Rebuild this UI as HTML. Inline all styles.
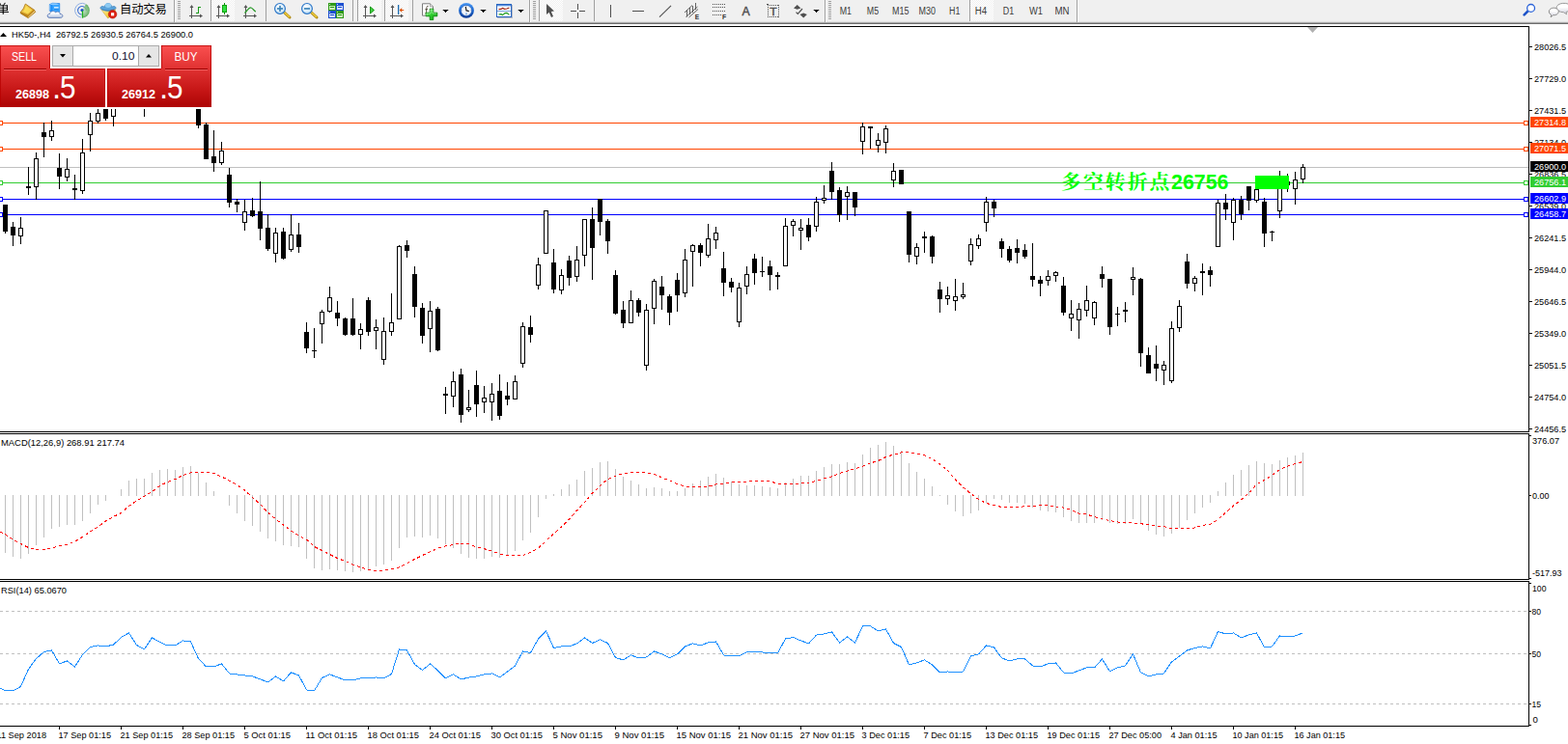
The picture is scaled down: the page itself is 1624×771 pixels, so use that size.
<!DOCTYPE html>
<html><head><meta charset="utf-8"><title>HK50 H4</title><style>html,body{margin:0;padding:0;background:#fff;overflow:hidden}svg text{white-space:pre;font-family:"Liberation Sans",sans-serif}</style></head><body>
<svg width="1624" height="771" viewBox="0 0 1624 771" font-family="Liberation Sans, sans-serif" style="display:block">
<defs>
<pattern id="dith" width="2" height="2" patternUnits="userSpaceOnUse"><rect width="2" height="2" fill="#f0f0f0"/><rect width="1" height="1" fill="#fff"/><rect x="1" y="1" width="1" height="1" fill="#fff"/></pattern>
<linearGradient id="redg" x1="0" y1="0" x2="0" y2="1"><stop offset="0" stop-color="#f84c4c"/><stop offset="0.38" stop-color="#e03030"/><stop offset="1" stop-color="#b00606"/></linearGradient>
<linearGradient id="gold" x1="0" y1="0" x2="1" y2="1"><stop offset="0" stop-color="#ffe46a"/><stop offset="1" stop-color="#c8860a"/></linearGradient>
<linearGradient id="blueg" x1="0" y1="0" x2="0" y2="1"><stop offset="0" stop-color="#2a5fd8"/><stop offset="1" stop-color="#1038b0"/></linearGradient>
<linearGradient id="greeng" x1="0" y1="0" x2="0" y2="1"><stop offset="0" stop-color="#3aa020"/><stop offset="1" stop-color="#2a8a10"/></linearGradient>
<radialGradient id="lens" cx="0.4" cy="0.35" r="0.7"><stop offset="0" stop-color="#ffffff"/><stop offset="1" stop-color="#bfe0f8"/></radialGradient>
</defs>
<rect x="0" y="0" width="1624" height="771" fill="#fff" />
<g shape-rendering="crispEdges">
<rect x="0" y="27" width="1584" height="1" fill="#000" />
<rect x="0" y="447" width="1584" height="1" fill="#000" />
<rect x="0" y="449" width="1584" height="1" fill="#000" />
<rect x="0" y="600" width="1584" height="1" fill="#000" />
<rect x="0" y="602" width="1584" height="1" fill="#000" />
<rect x="0" y="752" width="1584" height="1" fill="#000" />
<rect x="1583" y="27" width="1" height="421" fill="#000" />
<rect x="1583" y="449" width="1" height="152" fill="#000" />
<rect x="1583" y="602" width="1" height="151" fill="#000" />
<rect x="0" y="173" width="1583" height="1" fill="#c0c0c0" />
<rect x="0" y="127" width="1579" height="1" fill="#ff4500" />
<rect x="-2" y="125" width="5" height="5" fill="#ff4500" />
<rect x="-1" y="126" width="3" height="3" fill="#fff" />
<rect x="1578" y="125" width="5" height="5" fill="#ff4500" />
<rect x="1579" y="126" width="3" height="3" fill="#fff" />
<rect x="0" y="154" width="1579" height="1" fill="#ff4500" />
<rect x="-2" y="152" width="5" height="5" fill="#ff4500" />
<rect x="-1" y="153" width="3" height="3" fill="#fff" />
<rect x="1578" y="152" width="5" height="5" fill="#ff4500" />
<rect x="1579" y="153" width="3" height="3" fill="#fff" />
<rect x="0" y="189" width="1579" height="1" fill="#32cd32" />
<rect x="-2" y="187" width="5" height="5" fill="#32cd32" />
<rect x="-1" y="188" width="3" height="3" fill="#fff" />
<rect x="1578" y="187" width="5" height="5" fill="#32cd32" />
<rect x="1579" y="188" width="3" height="3" fill="#fff" />
<rect x="0" y="206" width="1579" height="1" fill="#0000ff" />
<rect x="-2" y="204" width="5" height="5" fill="#0000ff" />
<rect x="-1" y="205" width="3" height="3" fill="#fff" />
<rect x="1578" y="204" width="5" height="5" fill="#0000ff" />
<rect x="1579" y="205" width="3" height="3" fill="#fff" />
<rect x="0" y="222" width="1579" height="1" fill="#0000ff" />
<rect x="-2" y="220" width="5" height="5" fill="#0000ff" />
<rect x="-1" y="221" width="3" height="3" fill="#fff" />
<rect x="1578" y="220" width="5" height="5" fill="#0000ff" />
<rect x="1579" y="221" width="3" height="3" fill="#fff" />
<rect x="5" y="212" width="1" height="30" fill="#000" />
<rect x="3" y="212" width="5" height="28" fill="#000" />
<rect x="13" y="230" width="1" height="25" fill="#000" />
<rect x="11" y="235" width="5" height="9" fill="#000" />
<rect x="21" y="225" width="1" height="28" fill="#000" />
<rect x="19" y="236" width="5" height="9" fill="#000" />
<rect x="20" y="237" width="3" height="7" fill="#fff" />
<rect x="29" y="173" width="1" height="29" fill="#000" />
<rect x="27" y="193" width="5" height="2" fill="#000" />
<rect x="37" y="158" width="1" height="49" fill="#000" />
<rect x="35" y="164" width="5" height="30" fill="#000" />
<rect x="36" y="165" width="3" height="28" fill="#fff" />
<rect x="45" y="127" width="1" height="36" fill="#000" />
<rect x="43" y="137" width="5" height="5" fill="#000" />
<rect x="53" y="125" width="1" height="21" fill="#000" />
<rect x="51" y="135" width="5" height="7" fill="#000" />
<rect x="52" y="136" width="3" height="5" fill="#fff" />
<rect x="61" y="159" width="1" height="37" fill="#000" />
<rect x="59" y="174" width="5" height="9" fill="#000" />
<rect x="69" y="164" width="1" height="24" fill="#000" />
<rect x="67" y="175" width="5" height="9" fill="#000" />
<rect x="68" y="176" width="3" height="7" fill="#fff" />
<rect x="77" y="181" width="1" height="26" fill="#000" />
<rect x="75" y="195" width="5" height="2" fill="#000" />
<rect x="85" y="144" width="1" height="57" fill="#000" />
<rect x="83" y="158" width="5" height="40" fill="#000" />
<rect x="84" y="159" width="3" height="38" fill="#fff" />
<rect x="93" y="117" width="1" height="40" fill="#000" />
<rect x="91" y="125" width="5" height="15" fill="#000" />
<rect x="92" y="126" width="3" height="13" fill="#fff" />
<rect x="101" y="108" width="1" height="20" fill="#000" />
<rect x="99" y="117" width="5" height="9" fill="#000" />
<rect x="100" y="118" width="3" height="7" fill="#fff" />
<rect x="109" y="100" width="1" height="25" fill="#000" />
<rect x="107" y="104" width="5" height="19" fill="#000" />
<rect x="117" y="100" width="1" height="31" fill="#000" />
<rect x="115" y="104" width="5" height="17" fill="#000" />
<rect x="116" y="105" width="3" height="15" fill="#fff" />
<rect x="149" y="100" width="1" height="21" fill="#000" />
<rect x="147" y="104" width="5" height="5" fill="#000" />
<rect x="205" y="100" width="1" height="33" fill="#000" />
<rect x="203" y="104" width="5" height="26" fill="#000" />
<rect x="213" y="127" width="1" height="38" fill="#000" />
<rect x="211" y="129" width="5" height="36" fill="#000" />
<rect x="221" y="135" width="1" height="43" fill="#000" />
<rect x="219" y="162" width="5" height="7" fill="#000" />
<rect x="229" y="147" width="1" height="24" fill="#000" />
<rect x="227" y="156" width="5" height="13" fill="#000" />
<rect x="228" y="157" width="3" height="11" fill="#fff" />
<rect x="237" y="174" width="1" height="41" fill="#000" />
<rect x="235" y="181" width="5" height="29" fill="#000" />
<rect x="245" y="206" width="1" height="14" fill="#000" />
<rect x="243" y="209" width="5" height="3" fill="#000" />
<rect x="253" y="207" width="1" height="32" fill="#000" />
<rect x="251" y="219" width="5" height="12" fill="#000" />
<rect x="252" y="220" width="3" height="10" fill="#fff" />
<rect x="261" y="205" width="1" height="20" fill="#000" />
<rect x="259" y="218" width="5" height="6" fill="#000" />
<rect x="269" y="188" width="1" height="61" fill="#000" />
<rect x="267" y="219" width="5" height="18" fill="#000" />
<rect x="277" y="222" width="1" height="38" fill="#000" />
<rect x="275" y="236" width="5" height="22" fill="#000" />
<rect x="285" y="236" width="1" height="36" fill="#000" />
<rect x="283" y="241" width="5" height="22" fill="#000" />
<rect x="284" y="242" width="3" height="20" fill="#fff" />
<rect x="293" y="236" width="1" height="33" fill="#000" />
<rect x="291" y="240" width="5" height="28" fill="#000" />
<rect x="301" y="222" width="1" height="39" fill="#000" />
<rect x="299" y="243" width="5" height="16" fill="#000" />
<rect x="300" y="244" width="3" height="14" fill="#fff" />
<rect x="309" y="231" width="1" height="31" fill="#000" />
<rect x="307" y="243" width="5" height="13" fill="#000" />
<rect x="317" y="334" width="1" height="32" fill="#000" />
<rect x="315" y="344" width="5" height="17" fill="#000" />
<rect x="325" y="340" width="1" height="31" fill="#000" />
<rect x="323" y="363" width="5" height="1" fill="#000" />
<rect x="333" y="321" width="1" height="35" fill="#000" />
<rect x="331" y="323" width="5" height="13" fill="#000" />
<rect x="332" y="324" width="3" height="11" fill="#fff" />
<rect x="341" y="297" width="1" height="27" fill="#000" />
<rect x="339" y="308" width="5" height="15" fill="#000" />
<rect x="340" y="309" width="3" height="13" fill="#fff" />
<rect x="349" y="312" width="1" height="26" fill="#000" />
<rect x="347" y="324" width="5" height="6" fill="#000" />
<rect x="357" y="329" width="1" height="19" fill="#000" />
<rect x="355" y="330" width="5" height="17" fill="#000" />
<rect x="365" y="309" width="1" height="39" fill="#000" />
<rect x="363" y="330" width="5" height="17" fill="#000" />
<rect x="373" y="335" width="1" height="27" fill="#000" />
<rect x="371" y="341" width="5" height="6" fill="#000" />
<rect x="372" y="342" width="3" height="4" fill="#fff" />
<rect x="381" y="308" width="1" height="40" fill="#000" />
<rect x="379" y="311" width="5" height="33" fill="#000" />
<rect x="389" y="331" width="1" height="31" fill="#000" />
<rect x="387" y="339" width="5" height="4" fill="#000" />
<rect x="388" y="340" width="3" height="2" fill="#fff" />
<rect x="397" y="329" width="1" height="49" fill="#000" />
<rect x="395" y="343" width="5" height="30" fill="#000" />
<rect x="396" y="344" width="3" height="28" fill="#fff" />
<rect x="405" y="304" width="1" height="44" fill="#000" />
<rect x="403" y="334" width="5" height="10" fill="#000" />
<rect x="404" y="335" width="3" height="8" fill="#fff" />
<rect x="413" y="254" width="1" height="77" fill="#000" />
<rect x="411" y="255" width="5" height="76" fill="#000" />
<rect x="412" y="256" width="3" height="74" fill="#fff" />
<rect x="421" y="249" width="1" height="18" fill="#000" />
<rect x="419" y="254" width="5" height="6" fill="#000" />
<rect x="429" y="276" width="1" height="53" fill="#000" />
<rect x="427" y="284" width="5" height="34" fill="#000" />
<rect x="437" y="314" width="1" height="42" fill="#000" />
<rect x="435" y="319" width="5" height="29" fill="#000" />
<rect x="445" y="312" width="1" height="53" fill="#000" />
<rect x="443" y="322" width="5" height="19" fill="#000" />
<rect x="444" y="323" width="3" height="17" fill="#fff" />
<rect x="453" y="318" width="1" height="46" fill="#000" />
<rect x="451" y="320" width="5" height="43" fill="#000" />
<rect x="461" y="401" width="1" height="28" fill="#000" />
<rect x="459" y="408" width="5" height="2" fill="#000" />
<rect x="469" y="385" width="1" height="37" fill="#000" />
<rect x="467" y="395" width="5" height="16" fill="#000" />
<rect x="468" y="396" width="3" height="14" fill="#fff" />
<rect x="477" y="382" width="1" height="56" fill="#000" />
<rect x="475" y="388" width="5" height="42" fill="#000" />
<rect x="485" y="404" width="1" height="23" fill="#000" />
<rect x="483" y="422" width="5" height="3" fill="#000" />
<rect x="484" y="423" width="3" height="1" fill="#fff" />
<rect x="493" y="384" width="1" height="48" fill="#000" />
<rect x="491" y="399" width="5" height="20" fill="#000" />
<rect x="501" y="400" width="1" height="28" fill="#000" />
<rect x="499" y="412" width="5" height="5" fill="#000" />
<rect x="500" y="413" width="3" height="3" fill="#fff" />
<rect x="509" y="397" width="1" height="39" fill="#000" />
<rect x="507" y="408" width="5" height="9" fill="#000" />
<rect x="508" y="409" width="3" height="7" fill="#fff" />
<rect x="517" y="388" width="1" height="47" fill="#000" />
<rect x="515" y="405" width="5" height="26" fill="#000" />
<rect x="525" y="396" width="1" height="24" fill="#000" />
<rect x="523" y="410" width="5" height="4" fill="#000" />
<rect x="533" y="389" width="1" height="25" fill="#000" />
<rect x="531" y="395" width="5" height="19" fill="#000" />
<rect x="532" y="396" width="3" height="17" fill="#fff" />
<rect x="541" y="334" width="1" height="47" fill="#000" />
<rect x="539" y="338" width="5" height="39" fill="#000" />
<rect x="540" y="339" width="3" height="37" fill="#fff" />
<rect x="549" y="327" width="1" height="28" fill="#000" />
<rect x="547" y="339" width="5" height="8" fill="#000" />
<rect x="557" y="267" width="1" height="33" fill="#000" />
<rect x="555" y="274" width="5" height="22" fill="#000" />
<rect x="556" y="275" width="3" height="20" fill="#fff" />
<rect x="565" y="218" width="1" height="45" fill="#000" />
<rect x="563" y="218" width="5" height="45" fill="#000" />
<rect x="564" y="219" width="3" height="43" fill="#fff" />
<rect x="573" y="258" width="1" height="46" fill="#000" />
<rect x="571" y="272" width="5" height="28" fill="#000" />
<rect x="581" y="279" width="1" height="26" fill="#000" />
<rect x="579" y="285" width="5" height="16" fill="#000" />
<rect x="580" y="286" width="3" height="14" fill="#fff" />
<rect x="589" y="265" width="1" height="31" fill="#000" />
<rect x="587" y="270" width="5" height="18" fill="#000" />
<rect x="597" y="255" width="1" height="37" fill="#000" />
<rect x="595" y="269" width="5" height="18" fill="#000" />
<rect x="596" y="270" width="3" height="16" fill="#fff" />
<rect x="605" y="227" width="1" height="49" fill="#000" />
<rect x="603" y="227" width="5" height="38" fill="#000" />
<rect x="604" y="228" width="3" height="36" fill="#fff" />
<rect x="613" y="215" width="1" height="75" fill="#000" />
<rect x="611" y="227" width="5" height="30" fill="#000" />
<rect x="621" y="206" width="1" height="38" fill="#000" />
<rect x="619" y="206" width="5" height="24" fill="#000" />
<rect x="629" y="227" width="1" height="36" fill="#000" />
<rect x="627" y="229" width="5" height="21" fill="#000" />
<rect x="637" y="280" width="1" height="46" fill="#000" />
<rect x="635" y="285" width="5" height="40" fill="#000" />
<rect x="645" y="312" width="1" height="28" fill="#000" />
<rect x="643" y="321" width="5" height="14" fill="#000" />
<rect x="653" y="301" width="1" height="34" fill="#000" />
<rect x="651" y="311" width="5" height="24" fill="#000" />
<rect x="652" y="312" width="3" height="22" fill="#fff" />
<rect x="661" y="309" width="1" height="19" fill="#000" />
<rect x="659" y="311" width="5" height="13" fill="#000" />
<rect x="669" y="315" width="1" height="69" fill="#000" />
<rect x="667" y="321" width="5" height="58" fill="#000" />
<rect x="668" y="322" width="3" height="56" fill="#fff" />
<rect x="677" y="289" width="1" height="47" fill="#000" />
<rect x="675" y="291" width="5" height="29" fill="#000" />
<rect x="676" y="292" width="3" height="27" fill="#fff" />
<rect x="685" y="286" width="1" height="35" fill="#000" />
<rect x="683" y="297" width="5" height="9" fill="#000" />
<rect x="693" y="305" width="1" height="32" fill="#000" />
<rect x="691" y="307" width="5" height="17" fill="#000" />
<rect x="701" y="283" width="1" height="40" fill="#000" />
<rect x="699" y="290" width="5" height="16" fill="#000" />
<rect x="709" y="258" width="1" height="50" fill="#000" />
<rect x="707" y="269" width="5" height="35" fill="#000" />
<rect x="708" y="270" width="3" height="33" fill="#fff" />
<rect x="717" y="253" width="1" height="44" fill="#000" />
<rect x="715" y="254" width="5" height="7" fill="#000" />
<rect x="716" y="255" width="3" height="5" fill="#fff" />
<rect x="725" y="252" width="1" height="24" fill="#000" />
<rect x="723" y="254" width="5" height="8" fill="#000" />
<rect x="733" y="232" width="1" height="35" fill="#000" />
<rect x="731" y="247" width="5" height="18" fill="#000" />
<rect x="732" y="248" width="3" height="16" fill="#fff" />
<rect x="741" y="235" width="1" height="23" fill="#000" />
<rect x="739" y="241" width="5" height="8" fill="#000" />
<rect x="740" y="242" width="3" height="6" fill="#fff" />
<rect x="749" y="261" width="1" height="46" fill="#000" />
<rect x="747" y="278" width="5" height="15" fill="#000" />
<rect x="757" y="288" width="1" height="15" fill="#000" />
<rect x="755" y="292" width="5" height="6" fill="#000" />
<rect x="765" y="293" width="1" height="46" fill="#000" />
<rect x="763" y="298" width="5" height="36" fill="#000" />
<rect x="764" y="299" width="3" height="34" fill="#fff" />
<rect x="773" y="276" width="1" height="29" fill="#000" />
<rect x="771" y="284" width="5" height="13" fill="#000" />
<rect x="772" y="285" width="3" height="11" fill="#fff" />
<rect x="781" y="263" width="1" height="32" fill="#000" />
<rect x="779" y="268" width="5" height="15" fill="#000" />
<rect x="789" y="266" width="1" height="21" fill="#000" />
<rect x="787" y="281" width="5" height="1" fill="#000" />
<rect x="797" y="270" width="1" height="31" fill="#000" />
<rect x="795" y="276" width="5" height="9" fill="#000" />
<rect x="805" y="282" width="1" height="18" fill="#000" />
<rect x="803" y="285" width="5" height="2" fill="#000" />
<rect x="813" y="226" width="1" height="50" fill="#000" />
<rect x="811" y="234" width="5" height="42" fill="#000" />
<rect x="812" y="235" width="3" height="40" fill="#fff" />
<rect x="821" y="227" width="1" height="18" fill="#000" />
<rect x="819" y="229" width="5" height="5" fill="#000" />
<rect x="820" y="230" width="3" height="3" fill="#fff" />
<rect x="829" y="227" width="1" height="32" fill="#000" />
<rect x="827" y="236" width="5" height="3" fill="#000" />
<rect x="828" y="237" width="3" height="1" fill="#fff" />
<rect x="837" y="226" width="1" height="24" fill="#000" />
<rect x="835" y="233" width="5" height="13" fill="#000" />
<rect x="845" y="204" width="1" height="36" fill="#000" />
<rect x="843" y="209" width="5" height="26" fill="#000" />
<rect x="844" y="210" width="3" height="24" fill="#fff" />
<rect x="853" y="192" width="1" height="19" fill="#000" />
<rect x="851" y="205" width="5" height="3" fill="#000" />
<rect x="852" y="206" width="3" height="1" fill="#fff" />
<rect x="861" y="168" width="1" height="39" fill="#000" />
<rect x="859" y="177" width="5" height="22" fill="#000" />
<rect x="869" y="194" width="1" height="36" fill="#000" />
<rect x="867" y="197" width="5" height="26" fill="#000" />
<rect x="877" y="193" width="1" height="35" fill="#000" />
<rect x="875" y="199" width="5" height="5" fill="#000" />
<rect x="876" y="200" width="3" height="3" fill="#fff" />
<rect x="885" y="199" width="1" height="25" fill="#000" />
<rect x="883" y="199" width="5" height="16" fill="#000" />
<rect x="893" y="127" width="1" height="33" fill="#000" />
<rect x="891" y="131" width="5" height="16" fill="#000" />
<rect x="892" y="132" width="3" height="14" fill="#fff" />
<rect x="901" y="131" width="1" height="23" fill="#000" />
<rect x="899" y="131" width="5" height="2" fill="#000" />
<rect x="909" y="138" width="1" height="20" fill="#000" />
<rect x="907" y="145" width="5" height="6" fill="#000" />
<rect x="908" y="146" width="3" height="4" fill="#fff" />
<rect x="917" y="130" width="1" height="29" fill="#000" />
<rect x="915" y="133" width="5" height="15" fill="#000" />
<rect x="916" y="134" width="3" height="13" fill="#fff" />
<rect x="925" y="169" width="1" height="25" fill="#000" />
<rect x="923" y="177" width="5" height="10" fill="#000" />
<rect x="924" y="178" width="3" height="8" fill="#fff" />
<rect x="933" y="176" width="1" height="15" fill="#000" />
<rect x="931" y="176" width="5" height="15" fill="#000" />
<rect x="941" y="219" width="1" height="53" fill="#000" />
<rect x="939" y="219" width="5" height="45" fill="#000" />
<rect x="949" y="252" width="1" height="22" fill="#000" />
<rect x="947" y="256" width="5" height="10" fill="#000" />
<rect x="948" y="257" width="3" height="8" fill="#fff" />
<rect x="957" y="240" width="1" height="22" fill="#000" />
<rect x="955" y="245" width="5" height="2" fill="#000" />
<rect x="965" y="244" width="1" height="29" fill="#000" />
<rect x="963" y="245" width="5" height="21" fill="#000" />
<rect x="973" y="292" width="1" height="32" fill="#000" />
<rect x="971" y="300" width="5" height="10" fill="#000" />
<rect x="981" y="297" width="1" height="19" fill="#000" />
<rect x="979" y="306" width="5" height="4" fill="#000" />
<rect x="980" y="307" width="3" height="2" fill="#fff" />
<rect x="989" y="289" width="1" height="33" fill="#000" />
<rect x="987" y="307" width="5" height="5" fill="#000" />
<rect x="988" y="308" width="3" height="3" fill="#fff" />
<rect x="997" y="293" width="1" height="17" fill="#000" />
<rect x="995" y="305" width="5" height="3" fill="#000" />
<rect x="996" y="306" width="3" height="1" fill="#fff" />
<rect x="1005" y="247" width="1" height="28" fill="#000" />
<rect x="1003" y="253" width="5" height="18" fill="#000" />
<rect x="1004" y="254" width="3" height="16" fill="#fff" />
<rect x="1013" y="243" width="1" height="15" fill="#000" />
<rect x="1011" y="247" width="5" height="8" fill="#000" />
<rect x="1012" y="248" width="3" height="6" fill="#fff" />
<rect x="1021" y="204" width="1" height="36" fill="#000" />
<rect x="1019" y="209" width="5" height="22" fill="#000" />
<rect x="1020" y="210" width="3" height="20" fill="#fff" />
<rect x="1029" y="207" width="1" height="18" fill="#000" />
<rect x="1027" y="209" width="5" height="7" fill="#000" />
<rect x="1037" y="247" width="1" height="20" fill="#000" />
<rect x="1035" y="250" width="5" height="8" fill="#000" />
<rect x="1045" y="255" width="1" height="17" fill="#000" />
<rect x="1043" y="258" width="5" height="12" fill="#000" />
<rect x="1053" y="248" width="1" height="25" fill="#000" />
<rect x="1051" y="257" width="5" height="5" fill="#000" />
<rect x="1061" y="253" width="1" height="15" fill="#000" />
<rect x="1059" y="259" width="5" height="7" fill="#000" />
<rect x="1069" y="252" width="1" height="45" fill="#000" />
<rect x="1067" y="286" width="5" height="4" fill="#000" />
<rect x="1077" y="286" width="1" height="21" fill="#000" />
<rect x="1075" y="290" width="5" height="4" fill="#000" />
<rect x="1085" y="280" width="1" height="16" fill="#000" />
<rect x="1083" y="286" width="5" height="5" fill="#000" />
<rect x="1084" y="287" width="3" height="3" fill="#fff" />
<rect x="1093" y="281" width="1" height="11" fill="#000" />
<rect x="1091" y="282" width="5" height="4" fill="#000" />
<rect x="1092" y="283" width="3" height="2" fill="#fff" />
<rect x="1101" y="287" width="1" height="40" fill="#000" />
<rect x="1099" y="296" width="5" height="28" fill="#000" />
<rect x="1109" y="311" width="1" height="32" fill="#000" />
<rect x="1107" y="325" width="5" height="5" fill="#000" />
<rect x="1108" y="326" width="3" height="3" fill="#fff" />
<rect x="1117" y="314" width="1" height="37" fill="#000" />
<rect x="1115" y="320" width="5" height="12" fill="#000" />
<rect x="1116" y="321" width="3" height="10" fill="#fff" />
<rect x="1125" y="296" width="1" height="32" fill="#000" />
<rect x="1123" y="311" width="5" height="11" fill="#000" />
<rect x="1124" y="312" width="3" height="9" fill="#fff" />
<rect x="1133" y="312" width="1" height="25" fill="#000" />
<rect x="1131" y="313" width="5" height="17" fill="#000" />
<rect x="1132" y="314" width="3" height="15" fill="#fff" />
<rect x="1141" y="276" width="1" height="22" fill="#000" />
<rect x="1139" y="284" width="5" height="5" fill="#000" />
<rect x="1149" y="289" width="1" height="58" fill="#000" />
<rect x="1147" y="289" width="5" height="50" fill="#000" />
<rect x="1157" y="318" width="1" height="20" fill="#000" />
<rect x="1155" y="325" width="5" height="1" fill="#000" />
<rect x="1165" y="313" width="1" height="21" fill="#000" />
<rect x="1163" y="321" width="5" height="2" fill="#000" />
<rect x="1173" y="277" width="1" height="29" fill="#000" />
<rect x="1171" y="287" width="5" height="3" fill="#000" />
<rect x="1172" y="288" width="3" height="1" fill="#fff" />
<rect x="1181" y="288" width="1" height="92" fill="#000" />
<rect x="1179" y="289" width="5" height="77" fill="#000" />
<rect x="1189" y="360" width="1" height="27" fill="#000" />
<rect x="1187" y="368" width="5" height="19" fill="#000" />
<rect x="1197" y="358" width="1" height="37" fill="#000" />
<rect x="1195" y="377" width="5" height="5" fill="#000" />
<rect x="1205" y="374" width="1" height="25" fill="#000" />
<rect x="1203" y="378" width="5" height="6" fill="#000" />
<rect x="1204" y="379" width="3" height="4" fill="#fff" />
<rect x="1213" y="333" width="1" height="64" fill="#000" />
<rect x="1211" y="340" width="5" height="55" fill="#000" />
<rect x="1212" y="341" width="3" height="53" fill="#fff" />
<rect x="1221" y="311" width="1" height="33" fill="#000" />
<rect x="1219" y="317" width="5" height="23" fill="#000" />
<rect x="1220" y="318" width="3" height="21" fill="#fff" />
<rect x="1229" y="263" width="1" height="36" fill="#000" />
<rect x="1227" y="271" width="5" height="23" fill="#000" />
<rect x="1237" y="286" width="1" height="16" fill="#000" />
<rect x="1235" y="288" width="5" height="6" fill="#000" />
<rect x="1236" y="289" width="3" height="4" fill="#fff" />
<rect x="1245" y="273" width="1" height="33" fill="#000" />
<rect x="1243" y="281" width="5" height="2" fill="#000" />
<rect x="1253" y="276" width="1" height="21" fill="#000" />
<rect x="1251" y="280" width="5" height="5" fill="#000" />
<rect x="1261" y="207" width="1" height="49" fill="#000" />
<rect x="1259" y="210" width="5" height="46" fill="#000" />
<rect x="1260" y="211" width="3" height="44" fill="#fff" />
<rect x="1269" y="201" width="1" height="27" fill="#000" />
<rect x="1267" y="210" width="5" height="7" fill="#000" />
<rect x="1277" y="205" width="1" height="44" fill="#000" />
<rect x="1275" y="207" width="5" height="24" fill="#000" />
<rect x="1276" y="208" width="3" height="22" fill="#fff" />
<rect x="1285" y="203" width="1" height="25" fill="#000" />
<rect x="1283" y="207" width="5" height="15" fill="#000" />
<rect x="1293" y="193" width="1" height="25" fill="#000" />
<rect x="1291" y="193" width="5" height="15" fill="#000" />
<rect x="1301" y="196" width="1" height="14" fill="#000" />
<rect x="1299" y="196" width="5" height="12" fill="#000" />
<rect x="1300" y="197" width="3" height="10" fill="#fff" />
<rect x="1309" y="205" width="1" height="51" fill="#000" />
<rect x="1307" y="209" width="5" height="33" fill="#000" />
<rect x="1317" y="239" width="1" height="11" fill="#000" />
<rect x="1315" y="240" width="5" height="1" fill="#000" />
<rect x="1325" y="177" width="1" height="49" fill="#000" />
<rect x="1323" y="186" width="5" height="33" fill="#000" />
<rect x="1324" y="187" width="3" height="31" fill="#fff" />
<rect x="1333" y="180" width="1" height="19" fill="#000" />
<rect x="1331" y="188" width="5" height="4" fill="#000" />
<rect x="1341" y="178" width="1" height="34" fill="#000" />
<rect x="1339" y="186" width="5" height="10" fill="#000" />
<rect x="1340" y="187" width="3" height="8" fill="#fff" />
<rect x="1349" y="170" width="1" height="20" fill="#000" />
<rect x="1347" y="173" width="5" height="13" fill="#000" />
<rect x="1348" y="174" width="3" height="11" fill="#fff" />
<rect x="1300" y="182" width="35" height="14" fill="#00ff00" />
<path d="M1354,28 L1365,28 L1359.5,34 Z" fill="#b0b0b0" shape-rendering="auto"/>
<rect x="1584" y="48" width="3" height="1" fill="#000" />
<rect x="1584" y="81" width="3" height="1" fill="#000" />
<rect x="1584" y="114" width="3" height="1" fill="#000" />
<rect x="1584" y="147" width="3" height="1" fill="#000" />
<rect x="1584" y="180" width="3" height="1" fill="#000" />
<rect x="1584" y="213" width="3" height="1" fill="#000" />
<rect x="1584" y="246" width="3" height="1" fill="#000" />
<rect x="1584" y="279" width="3" height="1" fill="#000" />
<rect x="1584" y="312" width="3" height="1" fill="#000" />
<rect x="1584" y="345" width="3" height="1" fill="#000" />
<rect x="1584" y="378" width="3" height="1" fill="#000" />
<rect x="1584" y="411" width="3" height="1" fill="#000" />
<rect x="1584" y="444" width="3" height="1" fill="#000" />
<rect x="1584" y="451" width="2" height="1" fill="#000" />
<rect x="1584" y="513" width="2" height="1" fill="#000" />
<rect x="1584" y="599" width="2" height="1" fill="#000" />
<rect x="1584" y="604" width="2" height="1" fill="#000" />
<rect x="1584" y="633" width="2" height="1" fill="#000" />
<rect x="1584" y="677" width="2" height="1" fill="#000" />
<rect x="1584" y="729" width="2" height="1" fill="#000" />
<rect x="1584" y="751" width="2" height="1" fill="#000" />
</g>
<text x="1589" y="52" font-size="9.6" fill="#000" textLength="33" lengthAdjust="spacingAndGlyphs" >28026.5</text>
<text x="1589" y="85" font-size="9.6" fill="#000" textLength="33" lengthAdjust="spacingAndGlyphs" >27729.0</text>
<text x="1589" y="118" font-size="9.6" fill="#000" textLength="33" lengthAdjust="spacingAndGlyphs" >27431.5</text>
<text x="1589" y="151" font-size="9.6" fill="#000" textLength="33" lengthAdjust="spacingAndGlyphs" >27134.0</text>
<text x="1589" y="184" font-size="9.6" fill="#000" textLength="33" lengthAdjust="spacingAndGlyphs" >26836.5</text>
<text x="1589" y="217" font-size="9.6" fill="#000" textLength="33" lengthAdjust="spacingAndGlyphs" >26539.0</text>
<text x="1589" y="250" font-size="9.6" fill="#000" textLength="33" lengthAdjust="spacingAndGlyphs" >26241.5</text>
<text x="1589" y="283" font-size="9.6" fill="#000" textLength="33" lengthAdjust="spacingAndGlyphs" >25944.0</text>
<text x="1589" y="316" font-size="9.6" fill="#000" textLength="33" lengthAdjust="spacingAndGlyphs" >25646.5</text>
<text x="1589" y="349" font-size="9.6" fill="#000" textLength="33" lengthAdjust="spacingAndGlyphs" >25349.0</text>
<text x="1589" y="382" font-size="9.6" fill="#000" textLength="33" lengthAdjust="spacingAndGlyphs" >25051.5</text>
<text x="1589" y="415" font-size="9.6" fill="#000" textLength="33" lengthAdjust="spacingAndGlyphs" >24754.0</text>
<text x="1589" y="448" font-size="9.6" fill="#000" textLength="33" lengthAdjust="spacingAndGlyphs" >24456.5</text>
<g shape-rendering="crispEdges">
<rect x="1585" y="121" width="39" height="11" fill="#ff4500" />
<rect x="1585" y="148" width="39" height="11" fill="#ff4500" />
<rect x="1585" y="167" width="39" height="11" fill="#000" />
<rect x="1585" y="183" width="39" height="11" fill="#32cd32" />
<rect x="1585" y="200" width="39" height="11" fill="#0000ff" />
<rect x="1585" y="216" width="39" height="11" fill="#0000ff" />
</g>
<text x="1589" y="130" font-size="9.6" fill="#fff" textLength="33" lengthAdjust="spacingAndGlyphs" >27314.8</text>
<text x="1589" y="157" font-size="9.6" fill="#fff" textLength="33" lengthAdjust="spacingAndGlyphs" >27071.5</text>
<text x="1589" y="176" font-size="9.6" fill="#fff" textLength="33" lengthAdjust="spacingAndGlyphs" >26900.0</text>
<text x="1589" y="192" font-size="9.6" fill="#fff" textLength="33" lengthAdjust="spacingAndGlyphs" >26756.1</text>
<text x="1589" y="209" font-size="9.6" fill="#fff" textLength="33" lengthAdjust="spacingAndGlyphs" >26602.9</text>
<text x="1589" y="225" font-size="9.6" fill="#fff" textLength="33" lengthAdjust="spacingAndGlyphs" >26458.7</text>
<path d="M0,38 L3.5,34 L7,38 Z" fill="#000"/>
<text x="12" y="39" font-size="9.6" fill="#000" textLength="188" lengthAdjust="spacingAndGlyphs" >HK50-,H4&#160; 26792.5 26930.5 26764.5 26900.0</text>
<text x="1099" y="196.3" font-size="20.8" fill="#00ff00" font-weight="bold" textLength="112.4" lengthAdjust="spacing" style="font-family:'Liberation Serif','Noto Serif CJK SC',serif">多空转折点</text>
<text x="1213" y="196.4" font-size="21.8" fill="#00ff00" textLength="59.5" lengthAdjust="spacingAndGlyphs" font-weight="bold" >26756</text>
<g shape-rendering="crispEdges">
<rect x="5" y="513" width="1" height="60" fill="#c0c0c0" />
<rect x="13" y="513" width="1" height="64" fill="#c0c0c0" />
<rect x="21" y="513" width="1" height="66" fill="#c0c0c0" />
<rect x="29" y="513" width="1" height="61" fill="#c0c0c0" />
<rect x="37" y="513" width="1" height="52" fill="#c0c0c0" />
<rect x="45" y="513" width="1" height="44" fill="#c0c0c0" />
<rect x="53" y="513" width="1" height="35" fill="#c0c0c0" />
<rect x="61" y="513" width="1" height="33" fill="#c0c0c0" />
<rect x="69" y="513" width="1" height="31" fill="#c0c0c0" />
<rect x="77" y="513" width="1" height="31" fill="#c0c0c0" />
<rect x="85" y="513" width="1" height="27" fill="#c0c0c0" />
<rect x="93" y="513" width="1" height="19" fill="#c0c0c0" />
<rect x="101" y="513" width="1" height="10" fill="#c0c0c0" />
<rect x="109" y="513" width="1" height="6" fill="#c0c0c0" />
<rect x="125" y="507" width="1" height="7" fill="#c0c0c0" />
<rect x="133" y="498" width="1" height="16" fill="#c0c0c0" />
<rect x="141" y="496" width="1" height="18" fill="#c0c0c0" />
<rect x="149" y="496" width="1" height="18" fill="#c0c0c0" />
<rect x="157" y="490" width="1" height="24" fill="#c0c0c0" />
<rect x="165" y="487" width="1" height="27" fill="#c0c0c0" />
<rect x="173" y="486" width="1" height="28" fill="#c0c0c0" />
<rect x="181" y="487" width="1" height="27" fill="#c0c0c0" />
<rect x="189" y="484" width="1" height="30" fill="#c0c0c0" />
<rect x="197" y="483" width="1" height="31" fill="#c0c0c0" />
<rect x="205" y="490" width="1" height="24" fill="#c0c0c0" />
<rect x="213" y="500" width="1" height="14" fill="#c0c0c0" />
<rect x="221" y="509" width="1" height="5" fill="#c0c0c0" />
<rect x="237" y="513" width="1" height="11" fill="#c0c0c0" />
<rect x="245" y="513" width="1" height="19" fill="#c0c0c0" />
<rect x="253" y="513" width="1" height="27" fill="#c0c0c0" />
<rect x="261" y="513" width="1" height="32" fill="#c0c0c0" />
<rect x="269" y="513" width="1" height="38" fill="#c0c0c0" />
<rect x="277" y="513" width="1" height="45" fill="#c0c0c0" />
<rect x="285" y="513" width="1" height="48" fill="#c0c0c0" />
<rect x="293" y="513" width="1" height="52" fill="#c0c0c0" />
<rect x="301" y="513" width="1" height="53" fill="#c0c0c0" />
<rect x="309" y="513" width="1" height="54" fill="#c0c0c0" />
<rect x="317" y="513" width="1" height="66" fill="#c0c0c0" />
<rect x="325" y="513" width="1" height="76" fill="#c0c0c0" />
<rect x="333" y="513" width="1" height="78" fill="#c0c0c0" />
<rect x="341" y="513" width="1" height="77" fill="#c0c0c0" />
<rect x="349" y="513" width="1" height="78" fill="#c0c0c0" />
<rect x="357" y="513" width="1" height="79" fill="#c0c0c0" />
<rect x="365" y="513" width="1" height="80" fill="#c0c0c0" />
<rect x="373" y="513" width="1" height="79" fill="#c0c0c0" />
<rect x="381" y="513" width="1" height="77" fill="#c0c0c0" />
<rect x="389" y="513" width="1" height="74" fill="#c0c0c0" />
<rect x="397" y="513" width="1" height="72" fill="#c0c0c0" />
<rect x="405" y="513" width="1" height="68" fill="#c0c0c0" />
<rect x="413" y="513" width="1" height="55" fill="#c0c0c0" />
<rect x="421" y="513" width="1" height="44" fill="#c0c0c0" />
<rect x="429" y="513" width="1" height="43" fill="#c0c0c0" />
<rect x="437" y="513" width="1" height="44" fill="#c0c0c0" />
<rect x="445" y="513" width="1" height="42" fill="#c0c0c0" />
<rect x="453" y="513" width="1" height="45" fill="#c0c0c0" />
<rect x="461" y="513" width="1" height="51" fill="#c0c0c0" />
<rect x="469" y="513" width="1" height="55" fill="#c0c0c0" />
<rect x="477" y="513" width="1" height="61" fill="#c0c0c0" />
<rect x="485" y="513" width="1" height="65" fill="#c0c0c0" />
<rect x="493" y="513" width="1" height="66" fill="#c0c0c0" />
<rect x="501" y="513" width="1" height="66" fill="#c0c0c0" />
<rect x="509" y="513" width="1" height="64" fill="#c0c0c0" />
<rect x="517" y="513" width="1" height="65" fill="#c0c0c0" />
<rect x="525" y="513" width="1" height="62" fill="#c0c0c0" />
<rect x="533" y="513" width="1" height="58" fill="#c0c0c0" />
<rect x="541" y="513" width="1" height="47" fill="#c0c0c0" />
<rect x="549" y="513" width="1" height="39" fill="#c0c0c0" />
<rect x="557" y="513" width="1" height="23" fill="#c0c0c0" />
<rect x="565" y="513" width="1" height="4" fill="#c0c0c0" />
<rect x="573" y="512" width="1" height="2" fill="#c0c0c0" />
<rect x="581" y="507" width="1" height="7" fill="#c0c0c0" />
<rect x="589" y="502" width="1" height="12" fill="#c0c0c0" />
<rect x="597" y="497" width="1" height="17" fill="#c0c0c0" />
<rect x="605" y="488" width="1" height="26" fill="#c0c0c0" />
<rect x="613" y="485" width="1" height="29" fill="#c0c0c0" />
<rect x="621" y="479" width="1" height="35" fill="#c0c0c0" />
<rect x="629" y="478" width="1" height="36" fill="#c0c0c0" />
<rect x="637" y="486" width="1" height="28" fill="#c0c0c0" />
<rect x="645" y="494" width="1" height="20" fill="#c0c0c0" />
<rect x="653" y="498" width="1" height="16" fill="#c0c0c0" />
<rect x="661" y="502" width="1" height="12" fill="#c0c0c0" />
<rect x="669" y="506" width="1" height="8" fill="#c0c0c0" />
<rect x="677" y="505" width="1" height="9" fill="#c0c0c0" />
<rect x="685" y="506" width="1" height="8" fill="#c0c0c0" />
<rect x="693" y="509" width="1" height="5" fill="#c0c0c0" />
<rect x="701" y="509" width="1" height="5" fill="#c0c0c0" />
<rect x="709" y="506" width="1" height="8" fill="#c0c0c0" />
<rect x="717" y="501" width="1" height="13" fill="#c0c0c0" />
<rect x="725" y="498" width="1" height="16" fill="#c0c0c0" />
<rect x="733" y="494" width="1" height="20" fill="#c0c0c0" />
<rect x="741" y="491" width="1" height="23" fill="#c0c0c0" />
<rect x="749" y="495" width="1" height="19" fill="#c0c0c0" />
<rect x="757" y="499" width="1" height="15" fill="#c0c0c0" />
<rect x="765" y="502" width="1" height="12" fill="#c0c0c0" />
<rect x="773" y="503" width="1" height="11" fill="#c0c0c0" />
<rect x="781" y="503" width="1" height="11" fill="#c0c0c0" />
<rect x="789" y="504" width="1" height="10" fill="#c0c0c0" />
<rect x="797" y="505" width="1" height="9" fill="#c0c0c0" />
<rect x="805" y="506" width="1" height="8" fill="#c0c0c0" />
<rect x="813" y="500" width="1" height="14" fill="#c0c0c0" />
<rect x="821" y="496" width="1" height="18" fill="#c0c0c0" />
<rect x="829" y="493" width="1" height="21" fill="#c0c0c0" />
<rect x="837" y="493" width="1" height="21" fill="#c0c0c0" />
<rect x="845" y="488" width="1" height="26" fill="#c0c0c0" />
<rect x="853" y="484" width="1" height="30" fill="#c0c0c0" />
<rect x="861" y="481" width="1" height="33" fill="#c0c0c0" />
<rect x="869" y="481" width="1" height="33" fill="#c0c0c0" />
<rect x="877" y="479" width="1" height="35" fill="#c0c0c0" />
<rect x="885" y="480" width="1" height="34" fill="#c0c0c0" />
<rect x="893" y="471" width="1" height="43" fill="#c0c0c0" />
<rect x="901" y="464" width="1" height="50" fill="#c0c0c0" />
<rect x="909" y="461" width="1" height="53" fill="#c0c0c0" />
<rect x="917" y="458" width="1" height="56" fill="#c0c0c0" />
<rect x="925" y="462" width="1" height="52" fill="#c0c0c0" />
<rect x="933" y="467" width="1" height="47" fill="#c0c0c0" />
<rect x="941" y="480" width="1" height="34" fill="#c0c0c0" />
<rect x="949" y="489" width="1" height="25" fill="#c0c0c0" />
<rect x="957" y="496" width="1" height="18" fill="#c0c0c0" />
<rect x="965" y="504" width="1" height="10" fill="#c0c0c0" />
<rect x="973" y="513" width="1" height="1" fill="#c0c0c0" />
<rect x="981" y="513" width="1" height="10" fill="#c0c0c0" />
<rect x="989" y="513" width="1" height="17" fill="#c0c0c0" />
<rect x="997" y="513" width="1" height="22" fill="#c0c0c0" />
<rect x="1005" y="513" width="1" height="19" fill="#c0c0c0" />
<rect x="1013" y="513" width="1" height="16" fill="#c0c0c0" />
<rect x="1021" y="513" width="1" height="8" fill="#c0c0c0" />
<rect x="1029" y="513" width="1" height="4" fill="#c0c0c0" />
<rect x="1037" y="513" width="1" height="5" fill="#c0c0c0" />
<rect x="1045" y="513" width="1" height="8" fill="#c0c0c0" />
<rect x="1053" y="513" width="1" height="8" fill="#c0c0c0" />
<rect x="1061" y="513" width="1" height="9" fill="#c0c0c0" />
<rect x="1069" y="513" width="1" height="13" fill="#c0c0c0" />
<rect x="1077" y="513" width="1" height="16" fill="#c0c0c0" />
<rect x="1085" y="513" width="1" height="17" fill="#c0c0c0" />
<rect x="1093" y="513" width="1" height="18" fill="#c0c0c0" />
<rect x="1101" y="513" width="1" height="23" fill="#c0c0c0" />
<rect x="1109" y="513" width="1" height="27" fill="#c0c0c0" />
<rect x="1117" y="513" width="1" height="29" fill="#c0c0c0" />
<rect x="1125" y="513" width="1" height="29" fill="#c0c0c0" />
<rect x="1133" y="513" width="1" height="29" fill="#c0c0c0" />
<rect x="1141" y="513" width="1" height="26" fill="#c0c0c0" />
<rect x="1149" y="513" width="1" height="29" fill="#c0c0c0" />
<rect x="1157" y="513" width="1" height="30" fill="#c0c0c0" />
<rect x="1165" y="513" width="1" height="30" fill="#c0c0c0" />
<rect x="1173" y="513" width="1" height="25" fill="#c0c0c0" />
<rect x="1181" y="513" width="1" height="30" fill="#c0c0c0" />
<rect x="1189" y="513" width="1" height="37" fill="#c0c0c0" />
<rect x="1197" y="513" width="1" height="41" fill="#c0c0c0" />
<rect x="1205" y="513" width="1" height="43" fill="#c0c0c0" />
<rect x="1213" y="513" width="1" height="40" fill="#c0c0c0" />
<rect x="1221" y="513" width="1" height="34" fill="#c0c0c0" />
<rect x="1229" y="513" width="1" height="26" fill="#c0c0c0" />
<rect x="1237" y="513" width="1" height="19" fill="#c0c0c0" />
<rect x="1245" y="513" width="1" height="13" fill="#c0c0c0" />
<rect x="1253" y="513" width="1" height="8" fill="#c0c0c0" />
<rect x="1261" y="509" width="1" height="5" fill="#c0c0c0" />
<rect x="1269" y="500" width="1" height="14" fill="#c0c0c0" />
<rect x="1277" y="492" width="1" height="22" fill="#c0c0c0" />
<rect x="1285" y="487" width="1" height="27" fill="#c0c0c0" />
<rect x="1293" y="482" width="1" height="32" fill="#c0c0c0" />
<rect x="1301" y="478" width="1" height="36" fill="#c0c0c0" />
<rect x="1309" y="480" width="1" height="34" fill="#c0c0c0" />
<rect x="1317" y="481" width="1" height="33" fill="#c0c0c0" />
<rect x="1325" y="477" width="1" height="37" fill="#c0c0c0" />
<rect x="1333" y="474" width="1" height="40" fill="#c0c0c0" />
<rect x="1341" y="472" width="1" height="42" fill="#c0c0c0" />
<rect x="1349" y="469" width="1" height="45" fill="#c0c0c0" />
</g>
<polyline points="0,551 5.5,553.9 13.5,558.9 21.5,563.5 29.5,567.5 37.5,569.1 45.5,569.5 53.5,567.9 61.5,565.9 69.5,564.1 77.5,561.1 85.5,556.5 93.5,550.9 101.5,546.1 109.5,539.9 117.5,535.5 125.5,531.5 133.5,524.5 141.5,518.9 149.5,514.1 157.5,509.5 165.5,503.5 173.5,499.5 181.5,496.5 189.5,492.5 197.5,489.9 205.5,489.1 213.5,489.1 221.5,490.5 229.5,493.9 237.5,498.1 245.5,502.5 253.5,508.1 261.5,515.5 269.5,522.5 277.5,531.1 285.5,537.9 293.5,544.1 301.5,550.1 309.5,555.1 317.5,559.1 325.5,566.5 333.5,570.5 341.5,574.5 349.5,578.5 357.5,581.5 365.5,585.1 373.5,587.9 381.5,590.5 389.5,591.5 397.5,590.9 405.5,589.5 413.5,587.9 421.5,583.9 429.5,579.5 437.5,575.5 445.5,571.9 453.5,568.1 461.5,565.9 469.5,564.5 477.5,563.1 485.5,563.9 493.5,566.9 501.5,568.7 509.5,571.1 517.5,573.9 525.5,575.9 533.5,575.9 541.5,575.5 549.5,572.5 557.5,568.1 565.5,560.5 573.5,553.1 581.5,545.9 589.5,537.9 597.5,529.1 605.5,520.5 613.5,511.1 621.5,503.5 629.5,496.5 637.5,493.1 645.5,490.9 653.5,489.9 661.5,489.1 669.5,490.1 677.5,491.5 685.5,494.9 693.5,498.1 701.5,501.5 709.5,504.1 717.5,504.9 725.5,504.9 733.5,504.1 741.5,501.9 749.5,500.9 757.5,499.9 765.5,499.1 773.5,499.1 781.5,498.1 789.5,498.9 797.5,498.9 805.5,501.1 813.5,501.9 821.5,501.9 829.5,500.9 837.5,500.1 845.5,498.5 853.5,495.9 861.5,493.9 869.5,490.5 877.5,488.1 885.5,485.9 893.5,483.1 901.5,479.9 909.5,477.5 917.5,473.5 925.5,471.1 933.5,468.9 941.5,468.9 949.5,469.9 957.5,471.9 965.5,475.5 973.5,481.1 981.5,487.5 989.5,497.1 997.5,504.9 1005.5,511.5 1013.5,517.5 1021.5,521.5 1029.5,523.5 1037.5,525.5 1045.5,525.9 1053.5,525.9 1061.5,524.5 1069.5,524.1 1077.5,523.9 1085.5,523.9 1093.5,524.9 1101.5,526.1 1109.5,528.5 1117.5,532.1 1125.5,533.1 1133.5,535.5 1141.5,537.9 1149.5,539.5 1157.5,540.9 1165.5,541.9 1173.5,541.9 1181.5,542.7 1189.5,543.9 1197.5,545.1 1205.5,545.7 1213.5,547.9 1221.5,547.9 1229.5,547.9 1237.5,546.9 1245.5,544.5 1253.5,543.1 1261.5,538.5 1269.5,531.1 1277.5,524.1 1285.5,517.9 1293.5,511.1 1301.5,501.9 1309.5,497.5 1317.5,492.5 1325.5,486.5 1333.5,483.1 1341.5,480.5 1349.5,478.5" fill="none" stroke="#ff0000" stroke-width="1" stroke-dasharray="3,3" shape-rendering="crispEdges"/>
<text x="1" y="462" font-size="9.6" fill="#000" textLength="128" lengthAdjust="spacingAndGlyphs" >MACD(12,26,9) 268.91 217.74</text>
<text x="1587" y="460" font-size="9.6" fill="#000" textLength="28" lengthAdjust="spacingAndGlyphs" >376.07</text>
<text x="1587" y="517" font-size="9.6" fill="#000" textLength="17.5" lengthAdjust="spacingAndGlyphs" >0.00</text>
<text x="1587" y="597" font-size="9.6" fill="#000" textLength="30.5" lengthAdjust="spacingAndGlyphs" >-517.93</text>
<g shape-rendering="crispEdges">
<line x1="0" y1="633.5" x2="1583" y2="633.5" stroke="#c0c0c0" stroke-width="1" stroke-dasharray="3,3"/>
<line x1="0" y1="677.5" x2="1583" y2="677.5" stroke="#c0c0c0" stroke-width="1" stroke-dasharray="3,3"/>
<line x1="0" y1="729.5" x2="1583" y2="729.5" stroke="#c0c0c0" stroke-width="1" stroke-dasharray="3,3"/>
</g>
<polyline points="0,713.1 5.5,715.9 13.5,715.9 21.5,711.5 29.5,693.5 37.5,682.5 45.5,675.5 53.5,673.9 61.5,687.9 69.5,684.9 77.5,690.9 85.5,678.5 93.5,670.5 101.5,668.9 109.5,669.9 117.5,668.1 125.5,660.5 133.5,655.9 141.5,668.5 149.5,672.9 157.5,660.9 165.5,665.5 173.5,668.9 181.5,668.9 189.5,663.9 197.5,664.9 205.5,682.5 213.5,690.9 221.5,690.9 229.5,687.9 237.5,697.9 245.5,698.9 253.5,699.9 261.5,700.9 269.5,703.9 277.5,706.9 285.5,700.9 293.5,705.9 301.5,696.9 309.5,699.9 317.5,714.9 325.5,715.9 333.5,702.5 341.5,698.9 349.5,701.9 357.5,704.9 365.5,704.9 373.5,702.9 381.5,702.9 389.5,701.9 397.5,702.9 405.5,698.5 413.5,672.9 421.5,673.9 429.5,688.5 437.5,694.5 445.5,687.9 453.5,694.9 461.5,702.9 469.5,698.9 477.5,703.9 485.5,702.1 493.5,700.9 501.5,698.9 509.5,697.9 517.5,701.9 525.5,695.9 533.5,689.9 541.5,674.9 549.5,676.5 557.5,662.1 565.5,653.9 573.5,671.5 581.5,669.9 589.5,669.9 597.5,666.9 605.5,660.9 613.5,666.5 621.5,662.9 629.5,666.5 637.5,681.5 645.5,683.9 653.5,678.9 661.5,681.9 669.5,680.9 677.5,674.9 685.5,677.9 693.5,681.9 701.5,677.9 709.5,669.9 717.5,666.9 725.5,668.9 733.5,665.9 741.5,664.9 749.5,678.9 757.5,679.9 765.5,679.9 773.5,675.9 781.5,675.9 789.5,675.9 797.5,676.9 805.5,676.9 813.5,661.9 821.5,660.5 829.5,663.9 837.5,666.9 845.5,658.1 853.5,656.9 861.5,654.9 869.5,665.9 877.5,659.9 885.5,665.9 893.5,648.9 901.5,648.9 909.5,653.9 917.5,651.9 925.5,666.5 933.5,670.5 941.5,688.9 949.5,686.9 957.5,683.9 965.5,688.9 973.5,696.9 981.5,695.9 989.5,696.9 997.5,695.9 1005.5,679.9 1013.5,677.9 1021.5,668.9 1029.5,670.9 1037.5,681.9 1045.5,684.9 1053.5,682.9 1061.5,682.9 1069.5,689.9 1077.5,690.9 1085.5,687.9 1093.5,686.9 1101.5,696.9 1109.5,697.9 1117.5,694.9 1125.5,691.9 1133.5,691.9 1141.5,682.9 1149.5,695.9 1157.5,691.9 1165.5,689.9 1173.5,677.9 1181.5,696.9 1189.5,700.9 1197.5,698.9 1205.5,697.9 1213.5,685.9 1221.5,679.9 1229.5,673.9 1237.5,671.5 1245.5,669.9 1253.5,671.9 1261.5,654.5 1269.5,656.9 1277.5,655.9 1285.5,660.9 1293.5,657.9 1301.5,655.9 1309.5,670.9 1317.5,669.9 1325.5,658.9 1333.5,659.9 1341.5,658.9 1349.5,655.9" fill="none" stroke="#1e90ff" stroke-width="1" shape-rendering="crispEdges"/>
<text x="1" y="615" font-size="9.6" fill="#000" textLength="68" lengthAdjust="spacingAndGlyphs" >RSI(14) 65.0670</text>
<text x="1587" y="613" font-size="9.6" fill="#000" textLength="14.5" lengthAdjust="spacingAndGlyphs" >100</text>
<text x="1586.5" y="637" font-size="9.6" fill="#000" textLength="9.5" lengthAdjust="spacingAndGlyphs" >80</text>
<text x="1586.5" y="681" font-size="9.6" fill="#000" textLength="9.5" lengthAdjust="spacingAndGlyphs" >50</text>
<text x="1586.5" y="733" font-size="9.6" fill="#000" textLength="9.5" lengthAdjust="spacingAndGlyphs" >15</text>
<text x="1587.5" y="749" font-size="9.6" fill="#000" >0</text>
<g shape-rendering="crispEdges">
<rect x="61" y="753" width="1" height="3" fill="#000" />
<rect x="125" y="753" width="1" height="3" fill="#000" />
<rect x="189" y="753" width="1" height="3" fill="#000" />
<rect x="253" y="753" width="1" height="3" fill="#000" />
<rect x="317" y="753" width="1" height="3" fill="#000" />
<rect x="381" y="753" width="1" height="3" fill="#000" />
<rect x="445" y="753" width="1" height="3" fill="#000" />
<rect x="509" y="753" width="1" height="3" fill="#000" />
<rect x="573" y="753" width="1" height="3" fill="#000" />
<rect x="637" y="753" width="1" height="3" fill="#000" />
<rect x="701" y="753" width="1" height="3" fill="#000" />
<rect x="765" y="753" width="1" height="3" fill="#000" />
<rect x="829" y="753" width="1" height="3" fill="#000" />
<rect x="893" y="753" width="1" height="3" fill="#000" />
<rect x="957" y="753" width="1" height="3" fill="#000" />
<rect x="1021" y="753" width="1" height="3" fill="#000" />
<rect x="1085" y="753" width="1" height="3" fill="#000" />
<rect x="1149" y="753" width="1" height="3" fill="#000" />
<rect x="1213" y="753" width="1" height="3" fill="#000" />
<rect x="1277" y="753" width="1" height="3" fill="#000" />
<rect x="1341" y="753" width="1" height="3" fill="#000" />
</g>
<text x="-3.5" y="765" font-size="9.6" fill="#000" textLength="51.5" lengthAdjust="spacingAndGlyphs" >11 Sep 2018</text>
<text x="60.5" y="765" font-size="9.6" fill="#000" textLength="54.5" lengthAdjust="spacingAndGlyphs" >17 Sep 01:15</text>
<text x="124.5" y="765" font-size="9.6" fill="#000" textLength="54.5" lengthAdjust="spacingAndGlyphs" >21 Sep 01:15</text>
<text x="188.5" y="765" font-size="9.6" fill="#000" textLength="54.5" lengthAdjust="spacingAndGlyphs" >28 Sep 01:15</text>
<text x="252.5" y="765" font-size="9.6" fill="#000" textLength="48.5" lengthAdjust="spacingAndGlyphs" >5 Oct 01:15</text>
<text x="316.5" y="765" font-size="9.6" fill="#000" textLength="53.5" lengthAdjust="spacingAndGlyphs" >11 Oct 01:15</text>
<text x="380.5" y="765" font-size="9.6" fill="#000" textLength="53.5" lengthAdjust="spacingAndGlyphs" >18 Oct 01:15</text>
<text x="444.5" y="765" font-size="9.6" fill="#000" textLength="53.5" lengthAdjust="spacingAndGlyphs" >24 Oct 01:15</text>
<text x="508.5" y="765" font-size="9.6" fill="#000" textLength="53.5" lengthAdjust="spacingAndGlyphs" >30 Oct 01:15</text>
<text x="572.5" y="765" font-size="9.6" fill="#000" textLength="51.5" lengthAdjust="spacingAndGlyphs" >5 Nov 01:15</text>
<text x="636.5" y="765" font-size="9.6" fill="#000" textLength="51.5" lengthAdjust="spacingAndGlyphs" >9 Nov 01:15</text>
<text x="700.5" y="765" font-size="9.6" fill="#000" textLength="56.5" lengthAdjust="spacingAndGlyphs" >15 Nov 01:15</text>
<text x="764.5" y="765" font-size="9.6" fill="#000" textLength="56.5" lengthAdjust="spacingAndGlyphs" >21 Nov 01:15</text>
<text x="828.5" y="765" font-size="9.6" fill="#000" textLength="56.5" lengthAdjust="spacingAndGlyphs" >27 Nov 01:15</text>
<text x="892.5" y="765" font-size="9.6" fill="#000" textLength="49.5" lengthAdjust="spacingAndGlyphs" >3 Dec 01:15</text>
<text x="956.5" y="765" font-size="9.6" fill="#000" textLength="49.5" lengthAdjust="spacingAndGlyphs" >7 Dec 01:15</text>
<text x="1020.5" y="765" font-size="9.6" fill="#000" textLength="54.5" lengthAdjust="spacingAndGlyphs" >13 Dec 01:15</text>
<text x="1084.5" y="765" font-size="9.6" fill="#000" textLength="54.5" lengthAdjust="spacingAndGlyphs" >19 Dec 01:15</text>
<text x="1148.5" y="765" font-size="9.6" fill="#000" textLength="54.5" lengthAdjust="spacingAndGlyphs" >27 Dec 05:00</text>
<text x="1212.5" y="765" font-size="9.6" fill="#000" textLength="48.0" lengthAdjust="spacingAndGlyphs" >4 Jan 01:15</text>
<text x="1276.5" y="765" font-size="9.6" fill="#000" textLength="52.5" lengthAdjust="spacingAndGlyphs" >10 Jan 01:15</text>
<text x="1340.5" y="765" font-size="9.6" fill="#000" textLength="52.5" lengthAdjust="spacingAndGlyphs" >16 Jan 01:15</text>
<g shape-rendering="crispEdges">
<rect x="0" y="47" width="219" height="66" fill="#fff" />
</g>
<defs><linearGradient id="redp" gradientUnits="userSpaceOnUse" x1="0" y1="47" x2="0" y2="111"><stop offset="0" stop-color="#fa5050"/><stop offset="0.35" stop-color="#e23434"/><stop offset="0.75" stop-color="#c41414"/><stop offset="1" stop-color="#ac0404"/></linearGradient></defs>
<g shape-rendering="crispEdges">
<rect x="0" y="47" width="52" height="25" fill="url(#redp)" />
<rect x="0" y="71" width="109" height="40" fill="url(#redp)" />
<rect x="167" y="47" width="52" height="25" fill="url(#redp)" />
<rect x="111" y="71" width="108" height="40" fill="url(#redp)" />
<rect x="0" y="47" width="1" height="64" fill="#b80000" opacity="0.75"/>
<rect x="0" y="47" width="52" height="1" fill="#b80000" opacity="0.75"/>
<rect x="51" y="47" width="1" height="24" fill="#b80000" opacity="0.75"/>
<rect x="167" y="47" width="52" height="1" fill="#b80000" opacity="0.75"/>
<rect x="167" y="47" width="1" height="24" fill="#b80000" opacity="0.75"/>
<rect x="218" y="47" width="1" height="64" fill="#b80000" opacity="0.75"/>
<rect x="0" y="110" width="109" height="1" fill="#b80000" opacity="0.75"/>
<rect x="111" y="110" width="108" height="1" fill="#b80000" opacity="0.75"/>
<rect x="108" y="71" width="1" height="40" fill="#b80000" opacity="0.75"/>
<rect x="111" y="71" width="1" height="40" fill="#b80000" opacity="0.75"/>
<rect x="52" y="71" width="57" height="1" fill="#b80000" opacity="0.75"/>
<rect x="111" y="71" width="56" height="1" fill="#b80000" opacity="0.75"/>
<rect x="4" y="71" width="44" height="1" fill="#9a0000" />
<rect x="4" y="72" width="44" height="1" fill="#f06060" />
<rect x="171" y="71" width="44" height="1" fill="#9a0000" />
<rect x="171" y="72" width="44" height="1" fill="#f06060" />
<rect x="54" y="47" width="111" height="22" fill="#ababab" />
<rect x="55" y="48" width="109" height="20" fill="#fff" />
<rect x="55" y="48" width="20" height="20" fill="#e6e6e6" />
<rect x="75" y="48" width="1" height="20" fill="#ababab" />
<rect x="144" y="48" width="20" height="20" fill="#e6e6e6" />
<rect x="143" y="48" width="1" height="20" fill="#ababab" />
</g>
<path d="M62,56 L68,56 L65,59.5 Z" fill="#000"/>
<path d="M151,59.5 L157,59.5 L154,56 Z" fill="#000"/>
<text x="139.5" y="61.7" font-size="11.5" fill="#101030" text-anchor="end" textLength="23.5" lengthAdjust="spacingAndGlyphs" >0.10</text>
<text x="12" y="63" font-size="12.5" fill="#fff" textLength="26" lengthAdjust="spacingAndGlyphs" >SELL</text>
<text x="180.5" y="63" font-size="12.5" fill="#fff" textLength="24" lengthAdjust="spacingAndGlyphs" >BUY</text>
<text x="16" y="102" font-size="12.5" fill="#fff" textLength="35" lengthAdjust="spacingAndGlyphs" font-weight="bold" >26898</text>
<text x="126" y="102" font-size="12.5" fill="#fff" textLength="35" lengthAdjust="spacingAndGlyphs" font-weight="bold" >26912</text>
<text x="54" y="102.3" font-size="33" fill="#fff" >.</text>
<text x="62" y="102.3" font-size="33.5" fill="#fff" textLength="16.5" lengthAdjust="spacingAndGlyphs" >5</text>
<text x="165" y="102.3" font-size="33" fill="#fff" >.</text>
<text x="173" y="102.3" font-size="33.5" fill="#fff" textLength="16.5" lengthAdjust="spacingAndGlyphs" >5</text>
<g shape-rendering="crispEdges">
<rect x="0" y="0" width="1624" height="23" fill="#f0f0f0" />
<rect x="0" y="22" width="1624" height="1" fill="#e3e3e3" />
<rect x="0" y="23" width="1624" height="1" fill="#a6a6a6" />
<rect x="0" y="24" width="1624" height="1" fill="#6d6d6d" />
<rect x="180" y="0" width="1" height="23" fill="#a0a0a0" />
<rect x="181" y="0" width="1" height="23" fill="#ffffff" />
<rect x="184" y="1" width="3" height="1" fill="#a0a0a0" />
<rect x="184" y="3" width="3" height="1" fill="#a0a0a0" />
<rect x="184" y="5" width="3" height="1" fill="#a0a0a0" />
<rect x="184" y="7" width="3" height="1" fill="#a0a0a0" />
<rect x="184" y="9" width="3" height="1" fill="#a0a0a0" />
<rect x="184" y="11" width="3" height="1" fill="#a0a0a0" />
<rect x="184" y="13" width="3" height="1" fill="#a0a0a0" />
<rect x="184" y="15" width="3" height="1" fill="#a0a0a0" />
<rect x="184" y="17" width="3" height="1" fill="#a0a0a0" />
<rect x="184" y="19" width="3" height="1" fill="#a0a0a0" />
<rect x="218" y="0" width="1" height="22" fill="#a0a0a0" />
<rect x="219" y="0" width="24" height="22" fill="url(#dith)" />
<rect x="275" y="0" width="1" height="22" fill="#a0a0a0" />
<rect x="365" y="0" width="1" height="22" fill="#a0a0a0" />
<rect x="370" y="0" width="1" height="22" fill="#a0a0a0" />
<rect x="371" y="0" width="24" height="22" fill="url(#dith)" />
<rect x="398" y="0" width="1" height="22" fill="#a0a0a0" />
<rect x="399" y="0" width="24" height="22" fill="url(#dith)" />
<rect x="427" y="0" width="1" height="22" fill="#a0a0a0" />
<rect x="548" y="0" width="1" height="23" fill="#a0a0a0" />
<rect x="549" y="0" width="1" height="23" fill="#ffffff" />
<rect x="552" y="1" width="3" height="1" fill="#a0a0a0" />
<rect x="552" y="3" width="3" height="1" fill="#a0a0a0" />
<rect x="552" y="5" width="3" height="1" fill="#a0a0a0" />
<rect x="552" y="7" width="3" height="1" fill="#a0a0a0" />
<rect x="552" y="9" width="3" height="1" fill="#a0a0a0" />
<rect x="552" y="11" width="3" height="1" fill="#a0a0a0" />
<rect x="552" y="13" width="3" height="1" fill="#a0a0a0" />
<rect x="552" y="15" width="3" height="1" fill="#a0a0a0" />
<rect x="552" y="17" width="3" height="1" fill="#a0a0a0" />
<rect x="552" y="19" width="3" height="1" fill="#a0a0a0" />
<rect x="558" y="0" width="1" height="22" fill="#a0a0a0" />
<rect x="559" y="0" width="24" height="22" fill="url(#dith)" />
<rect x="615" y="0" width="1" height="22" fill="#a0a0a0" />
<rect x="854" y="0" width="1" height="23" fill="#a0a0a0" />
<rect x="855" y="0" width="1" height="23" fill="#ffffff" />
<rect x="858" y="1" width="3" height="1" fill="#a0a0a0" />
<rect x="858" y="3" width="3" height="1" fill="#a0a0a0" />
<rect x="858" y="5" width="3" height="1" fill="#a0a0a0" />
<rect x="858" y="7" width="3" height="1" fill="#a0a0a0" />
<rect x="858" y="9" width="3" height="1" fill="#a0a0a0" />
<rect x="858" y="11" width="3" height="1" fill="#a0a0a0" />
<rect x="858" y="13" width="3" height="1" fill="#a0a0a0" />
<rect x="858" y="15" width="3" height="1" fill="#a0a0a0" />
<rect x="858" y="17" width="3" height="1" fill="#a0a0a0" />
<rect x="858" y="19" width="3" height="1" fill="#a0a0a0" />
<rect x="1004" y="0" width="1" height="22" fill="#a0a0a0" />
<rect x="1005" y="0" width="24" height="22" fill="url(#dith)" />
<rect x="1115" y="0" width="1" height="23" fill="#a0a0a0" />
<rect x="1116" y="0" width="1" height="23" fill="#ffffff" />
<rect x="459" y="10" width="5" height="1" fill="#000" />
<rect x="460" y="11" width="3" height="1" fill="#000" />
<rect x="461" y="12" width="1" height="1" fill="#000" />
<rect x="458" y="10" width="7" height="1" fill="#000" opacity="0.25"/>
<rect x="498" y="10" width="5" height="1" fill="#000" />
<rect x="499" y="11" width="3" height="1" fill="#000" />
<rect x="500" y="12" width="1" height="1" fill="#000" />
<rect x="497" y="10" width="7" height="1" fill="#000" opacity="0.25"/>
<rect x="537" y="10" width="5" height="1" fill="#000" />
<rect x="538" y="11" width="3" height="1" fill="#000" />
<rect x="539" y="12" width="1" height="1" fill="#000" />
<rect x="536" y="10" width="7" height="1" fill="#000" opacity="0.25"/>
<rect x="843" y="10" width="5" height="1" fill="#000" />
<rect x="844" y="11" width="3" height="1" fill="#000" />
<rect x="845" y="12" width="1" height="1" fill="#000" />
<rect x="842" y="10" width="7" height="1" fill="#000" opacity="0.25"/>
</g>
<g fill="#000"><rect x="2.7" y="4.8" width="1.1" height="10"/><rect x="6.9" y="5.4" width="1" height="5.7"/><rect x="0" y="5.4" width="7.9" height="0.9"/><rect x="0" y="7.8" width="7.9" height="0.9"/><rect x="0" y="10.2" width="7.9" height="0.9"/><rect x="0" y="12.1" width="9" height="0.9"/><path d="M5.9,3 L4.4,5 L3.6,4.6 L5,2.7 Z"/><path d="M0,2.9 L1.2,4.6 L0.4,5 L0,4.4 Z"/></g>
<path d="M21.3,12.6 L21.3,13.9 L29.2,18.7 L36.8,12.4 L35.6,10.4 Z" fill="#c89020" stroke="#9a6408" stroke-width="0.6"/>
<path d="M29.3,17.9 L36.3,11.9 M29.3,17 L35.9,11.3" stroke="#fff0c0" stroke-width="0.5" fill="none"/>
<path d="M26.3,4.1 L35.6,10.4 L29,16.6 L21.3,12.6 Q24.8,9.2 26.3,4.1 Z" fill="url(#gold)" stroke="#a87010" stroke-width="0.8"/>
<path d="M26.9,6.2 L33.4,10.6 L28.8,14.6 L24,12 Q26.2,9.4 26.9,6.2 Z" fill="#ffe860" opacity="0.75"/>
<defs><linearGradient id="cloudg" x1="0" y1="0" x2="0" y2="1"><stop offset="0.3" stop-color="#ffffff"/><stop offset="1" stop-color="#b4c4e0"/></linearGradient></defs>
<path d="M51.3,4.6 L54.4,3.2 L61.8,3.6 L61.8,12.5 L54.4,13 L51.3,11.2 Z" fill="#1a8cf8" stroke="#0a70dc" stroke-width="0.5"/>
<path d="M54.4,5.2 L61.8,4.8 L61.8,12.5 L54.4,13 Z" fill="#3aa6ff"/><path d="M51.3,4.6 L54.4,5.2 L61.8,4.8 L58.6,3.4 L54.4,3.2 Z" fill="#8ccaff"/><path d="M51.8,5.2 L51.8,10.8" stroke="#bfe2ff" stroke-width="0.7"/><rect x="56" y="7.2" width="4.6" height="1.3" fill="#e8f4ff"/><rect x="56" y="9.4" width="4.6" height="0.8" fill="#1a7be0"/>
<path d="M51.2,18.4 C48.4,18.4 48.4,14.2 51.6,14.4 C52,11.2 56.6,10.6 57.6,13 C59.2,11.2 62.4,12.2 62,14.5 C65.8,14.3 65.8,18.4 62.6,18.4 Z" fill="url(#cloudg)" stroke="#5a78b4" stroke-width="0.9"/>
<defs><radialGradient id="radg" cx="0.5" cy="0.5" r="0.5"><stop offset="0.2" stop-color="#b8e0b8"/><stop offset="0.8" stop-color="#6cb46c"/><stop offset="1" stop-color="#3c9c3c"/></radialGradient><linearGradient id="hatg" x1="0" y1="0" x2="1" y2="1"><stop offset="0" stop-color="#fff6a0"/><stop offset="0.6" stop-color="#f4cc40"/><stop offset="1" stop-color="#d89a18"/></linearGradient></defs>
<clipPath id="rsec"><path d="M85.2,10.8 L89.6,3 L95,3 L95,20 L85.2,20 Z"/></clipPath>
<circle cx="85" cy="10.8" r="7.8" fill="url(#radg)" clip-path="url(#rsec)" opacity="0.85"/>
<g fill="none"><path d="M88.6,4.3 A7.4,7.4 0 1 0 84,18.1" stroke="#86a8e0" stroke-width="1" opacity="0.9"/><path d="M87.2,7.2 A4.3,4.3 0 1 0 84.6,15.1" stroke="#3f72d4" stroke-width="1.2"/><path d="M87.4,7.1 A4.3,4.3 0 0 1 89.3,10.8" stroke="#5a9a6a" stroke-width="1" opacity="0.7"/></g>
<circle cx="85" cy="10.6" r="1.6" fill="#2050c8"/><rect x="84.8" y="11.2" width="1.3" height="7.4" fill="#1fb01f"/>
<path d="M104.6,9.6 L119.6,9.6 L118.4,13.6 L111.8,19 Z" fill="url(#hatg)" stroke="#c89a20" stroke-width="0.5"/>
<path d="M104,8.6 C104,5.4 108,7 108.5,7.2 C108.2,2.4 115.8,2.4 115.5,7.2 C116,7 120,5.4 120,8.6 C118,12.2 106,12.2 104,8.6 Z" fill="#5aa4dc" stroke="#3a7cb8" stroke-width="0.7"/>
<ellipse cx="112" cy="5.6" rx="3.3" ry="2.4" fill="#8ccaf2"/>
<path d="M106,9.4 C109,11.4 115,11.4 118,9.4" fill="none" stroke="#3a78b0" stroke-width="0.6"/>
<circle cx="116.6" cy="14.8" r="4.3" fill="#dc2010" stroke="#b01000" stroke-width="0.5"/><rect x="115" y="13.2" width="3.2" height="3.2" fill="#fff"/>
<text x="124" y="14.3" font-size="12.3" fill="#000" textLength="48.75" lengthAdjust="spacing" style="font-family:'Liberation Sans','Noto Sans CJK SC',sans-serif">自动交易</text>
<g stroke="#555555" stroke-width="1" fill="#555555" shape-rendering="crispEdges"><line x1="198.5" y1="6" x2="198.5" y2="19"/><line x1="196" y1="16.5" x2="209" y2="16.5"/></g>
<path d="M196.5,8 L198.5,5 L200.5,8 Z M207,14.5 L210,16.5 L207,18.5 Z" fill="#555555"/>
<path d="M205.5,7 L205.5,14 M205.5,7.5 L207.8,7.5 M203,13.5 L205.5,13.5" stroke="#1a9a1a" stroke-width="1.3" fill="none" shape-rendering="crispEdges"/>
<g stroke="#555555" stroke-width="1" fill="#555555" shape-rendering="crispEdges"><line x1="226.5" y1="6" x2="226.5" y2="19"/><line x1="224" y1="16.5" x2="237" y2="16.5"/></g>
<path d="M224.5,8 L226.5,5 L228.5,8 Z M235,14.5 L238,16.5 L235,18.5 Z" fill="#555555"/>
<g shape-rendering="crispEdges"><rect x="232" y="3" width="1" height="12" fill="#109010"/><rect x="230" y="5" width="5" height="8" fill="#10a010"/><rect x="231" y="6" width="3" height="6" fill="#30e040"/></g>
<g stroke="#555555" stroke-width="1" fill="#555555" shape-rendering="crispEdges"><line x1="254.5" y1="6" x2="254.5" y2="19"/><line x1="252" y1="16.5" x2="265" y2="16.5"/></g>
<path d="M252.5,8 L254.5,5 L256.5,8 Z M263,14.5 L266,16.5 L263,18.5 Z" fill="#555555"/>
<path d="M253.5,13.5 C256,11 258,7.5 260,8 C262,8.5 263,11.5 265,12" fill="none" stroke="#2a9a2a" stroke-width="1.2"/>
<path d="M294,12.5 L300,18" stroke="#b08810" stroke-width="3" stroke-linecap="round"/>
<path d="M294.3,12.6 L299.6,17.5" stroke="#f0d040" stroke-width="1.4" stroke-linecap="round"/>
<circle cx="290" cy="8.9" r="5.4" fill="url(#lens)" stroke="#2f78c8" stroke-width="1.2"/>
<rect x="287" y="8.1" width="6" height="1.7" fill="#3f86b8"/>
<rect x="289.15" y="5.9" width="1.7" height="6" fill="#3f86b8"/>
<path d="M322,12.5 L328,18" stroke="#b08810" stroke-width="3" stroke-linecap="round"/>
<path d="M322.3,12.6 L327.6,17.5" stroke="#f0d040" stroke-width="1.4" stroke-linecap="round"/>
<circle cx="318" cy="8.9" r="5.4" fill="url(#lens)" stroke="#2f78c8" stroke-width="1.2"/>
<rect x="315" y="8.1" width="6" height="1.7" fill="#3f86b8"/>
<g shape-rendering="crispEdges">
<rect x="340" y="3" width="8" height="8" fill="#2f9a18" />
<rect x="341" y="6" width="6" height="4" fill="#c8eab8" />
<rect x="342" y="7" width="4" height="1" fill="#2f9a18" />
<rect x="341" y="4" width="1" height="1" fill="#c8eab8" />
<rect x="348" y="3" width="8" height="8" fill="#1d4fd0" />
<rect x="349" y="6" width="6" height="4" fill="#d0dcf8" />
<rect x="350" y="7" width="4" height="1" fill="#1d4fd0" />
<rect x="349" y="4" width="1" height="1" fill="#d0dcf8" />
<rect x="340" y="11" width="8" height="8" fill="#1d4fd0" />
<rect x="341" y="14" width="6" height="4" fill="#d0dcf8" />
<rect x="342" y="15" width="4" height="1" fill="#1d4fd0" />
<rect x="341" y="12" width="1" height="1" fill="#d0dcf8" />
<rect x="348" y="11" width="8" height="8" fill="#2f9a18" />
<rect x="349" y="14" width="6" height="4" fill="#c8eab8" />
<rect x="350" y="15" width="4" height="1" fill="#2f9a18" />
<rect x="349" y="12" width="1" height="1" fill="#c8eab8" />
</g>
<g stroke="#555555" stroke-width="1" fill="#555555" shape-rendering="crispEdges"><line x1="378.5" y1="6" x2="378.5" y2="19"/><line x1="376" y1="16.5" x2="389" y2="16.5"/></g>
<path d="M376.5,8 L378.5,5 L380.5,8 Z M387,14.5 L390,16.5 L387,18.5 Z" fill="#555555"/>
<path d="M383.5,7 L387.5,10.5 L383.5,14 Z" fill="#40d040" stroke="#109010" stroke-width="0.9"/>
<g stroke="#555555" stroke-width="1" fill="#555555" shape-rendering="crispEdges"><line x1="406.5" y1="6" x2="406.5" y2="19"/><line x1="404" y1="16.5" x2="417" y2="16.5"/></g>
<path d="M404.5,8 L406.5,5 L408.5,8 Z M415,14.5 L418,16.5 L415,18.5 Z" fill="#555555"/>
<rect x="412" y="5" width="1.3" height="10" fill="#1c6cb0"/><path d="M413.6,10.5 L416.5,8 L416,10 L418.2,10 L418.2,11 L416,11 L416.5,13 Z" fill="#e05000"/>
<defs><linearGradient id="plusg" x1="0" y1="0" x2="1" y2="1"><stop offset="0" stop-color="#8cf48c"/><stop offset="0.5" stop-color="#30d030"/><stop offset="1" stop-color="#109a10"/></linearGradient><linearGradient id="clk" x1="0" y1="0" x2="0" y2="1"><stop offset="0" stop-color="#4a98f4"/><stop offset="0.5" stop-color="#1a66d0"/><stop offset="1" stop-color="#0a3690"/></linearGradient></defs>
<path d="M437.5,3.8 L445.5,3.8 L448.5,6.8 L448.5,16.2 L437.5,16.2 Z" fill="#fcfcfc" stroke="#7c7c7c" stroke-width="1"/><path d="M445.5,3.8 L445.5,6.8 L448.5,6.8" fill="#e4e4e4" stroke="#8a8a8a" stroke-width="0.7"/>
<path d="M443.6,6.3 C441.6,5.8 442,8.4 441.6,9.8 C441.4,11.5 442,13.8 440.4,13.8 M440.4,9.6 L443,9.6" fill="none" stroke="#4a4030" stroke-width="0.9"/>
<path d="M445.2,9.2 L448.8,9.2 L448.8,13.2 L452.8,13.2 L452.8,16.8 L448.8,16.8 L448.8,20.6 L445.2,20.6 L445.2,16.8 L441.2,16.8 L441.2,13.2 L445.2,13.2 Z" fill="url(#plusg)" stroke="#0c8c0c" stroke-width="0.9"/>
<path d="M446,10 L448,10 L448,14 L452,14 M446,10 L446,14 L442,14 L442,16" fill="none" stroke="#c8ffc8" stroke-width="0.6" opacity="0.8"/>
<circle cx="483" cy="10.9" r="7.9" fill="url(#clk)"/><circle cx="483" cy="10.9" r="5.5" fill="#f4f8fe" stroke="#0e4aa8" stroke-width="0.5"/>
<g stroke="#8a98b0" stroke-width="0.7"><path d="M483,6 L483,7 M483,14.8 L483,15.8 M478.1,10.9 L479.1,10.9 M486.9,10.9 L487.9,10.9 M479.6,7.5 L480.2,8.1 M486.4,7.5 L485.8,8.1 M479.6,14.3 L480.2,13.7 M486.4,14.3 L485.8,13.7"/></g>
<path d="M482.3,7 L483,10.9 L485.8,11.6" fill="none" stroke="#202020" stroke-width="1.2"/><rect x="482" y="13.6" width="2" height="0.9" fill="#4a90e0"/>
<g shape-rendering="crispEdges">
<rect x="514" y="4" width="16" height="14" fill="#2a66c0" />
<rect x="515" y="6" width="14" height="11" fill="#fff" />
<rect x="515" y="11" width="14" height="1" fill="#7aa4dc" />
<rect x="515" y="5" width="14" height="1" fill="#5a8ede" />
<rect x="515" y="6" width="14" height="1" fill="#c4d8f4" />
<rect x="530" y="5" width="1" height="13" fill="#b0b8c8" />
<rect x="515" y="18" width="16" height="1" fill="#b8bcc8" />
</g>
<path d="M516.5,9.6 L519,9.4 L520.5,8.4 L522.5,9.3 L525,9 L527.5,8" fill="none" stroke="#a02010" stroke-width="1.2"/>
<path d="M516.5,15 L519,14.7 L520.5,15.6 L523,13.6 L525,13.4 L527.5,15.4" fill="none" stroke="#1a9a1a" stroke-width="1.2"/>
<path d="M566,4 L566,15 L568.7,12.8 L571,18 L573,17 L570.8,12 L574,11.6 Z" fill="#505050"/>
<g shape-rendering="crispEdges" fill="#505050"><rect x="598" y="4" width="1" height="6"/><rect x="598" y="13" width="1" height="6"/><rect x="591" y="11" width="6" height="1"/><rect x="600" y="11" width="6" height="1"/></g>
<g shape-rendering="crispEdges" fill="#505050"><rect x="632" y="5" width="1" height="13"/><rect x="655" y="11" width="12" height="1"/></g>
<path d="M683,17.7 L695,5.9" stroke="#505050" stroke-width="1.1"/>
<g stroke="#505050" stroke-width="0.9" fill="none"><path d="M709,13 L717,5.5 M710.5,17.5 L722.5,7 M713.5,18 L723,9.5"/><path d="M711.5,10.5 L711.5,17.5 M714.5,8 L714.5,15 M717.5,6 L717.5,13 M720.5,3 L720.5,10"/></g>
<text x="719.8" y="19.6" font-size="7" fill="#303030" textLength="4.4" lengthAdjust="spacingAndGlyphs" font-weight="bold" >E</text>
<g shape-rendering="crispEdges" fill="#505050">
<rect x="738" y="4" width="1" height="1" fill="#505050" />
<rect x="740" y="4" width="1" height="1" fill="#505050" />
<rect x="742" y="4" width="1" height="1" fill="#505050" />
<rect x="744" y="4" width="1" height="1" fill="#505050" />
<rect x="746" y="4" width="1" height="1" fill="#505050" />
<rect x="748" y="4" width="1" height="1" fill="#505050" />
<rect x="750" y="4" width="1" height="1" fill="#505050" />
<rect x="738" y="7" width="1" height="1" fill="#505050" />
<rect x="740" y="7" width="1" height="1" fill="#505050" />
<rect x="742" y="7" width="1" height="1" fill="#505050" />
<rect x="744" y="7" width="1" height="1" fill="#505050" />
<rect x="746" y="7" width="1" height="1" fill="#505050" />
<rect x="748" y="7" width="1" height="1" fill="#505050" />
<rect x="750" y="7" width="1" height="1" fill="#505050" />
<rect x="738" y="11" width="1" height="1" fill="#505050" />
<rect x="740" y="11" width="1" height="1" fill="#505050" />
<rect x="742" y="11" width="1" height="1" fill="#505050" />
<rect x="744" y="11" width="1" height="1" fill="#505050" />
<rect x="746" y="11" width="1" height="1" fill="#505050" />
<rect x="748" y="11" width="1" height="1" fill="#505050" />
<rect x="750" y="11" width="1" height="1" fill="#505050" />
<rect x="738" y="15" width="1" height="1" fill="#505050" />
<rect x="740" y="15" width="1" height="1" fill="#505050" />
<rect x="742" y="15" width="1" height="1" fill="#505050" />
<rect x="744" y="15" width="1" height="1" fill="#505050" />
<rect x="746" y="15" width="1" height="1" fill="#505050" />
</g>
<text x="748" y="19.6" font-size="7" fill="#303030" textLength="4.2" lengthAdjust="spacingAndGlyphs" font-weight="bold" >F</text>
<text x="768.6" y="16" font-size="12.5" fill="#505050" textLength="8.2" lengthAdjust="spacingAndGlyphs" stroke="#505050" stroke-width="0.45">A</text>
<g shape-rendering="crispEdges">
<rect x="795" y="5" width="1" height="1" fill="#505050" />
<rect x="795" y="17" width="1" height="1" fill="#505050" />
<rect x="797" y="5" width="1" height="1" fill="#505050" />
<rect x="797" y="17" width="1" height="1" fill="#505050" />
<rect x="799" y="5" width="1" height="1" fill="#505050" />
<rect x="799" y="17" width="1" height="1" fill="#505050" />
<rect x="801" y="5" width="1" height="1" fill="#505050" />
<rect x="801" y="17" width="1" height="1" fill="#505050" />
<rect x="803" y="5" width="1" height="1" fill="#505050" />
<rect x="803" y="17" width="1" height="1" fill="#505050" />
<rect x="805" y="5" width="1" height="1" fill="#505050" />
<rect x="805" y="17" width="1" height="1" fill="#505050" />
<rect x="795" y="5" width="1" height="1" fill="#505050" />
<rect x="806" y="5" width="1" height="1" fill="#505050" />
<rect x="795" y="7" width="1" height="1" fill="#505050" />
<rect x="806" y="7" width="1" height="1" fill="#505050" />
<rect x="795" y="9" width="1" height="1" fill="#505050" />
<rect x="806" y="9" width="1" height="1" fill="#505050" />
<rect x="795" y="11" width="1" height="1" fill="#505050" />
<rect x="806" y="11" width="1" height="1" fill="#505050" />
<rect x="795" y="13" width="1" height="1" fill="#505050" />
<rect x="806" y="13" width="1" height="1" fill="#505050" />
<rect x="795" y="15" width="1" height="1" fill="#505050" />
<rect x="806" y="15" width="1" height="1" fill="#505050" />
<rect x="795" y="17" width="1" height="1" fill="#505050" />
<rect x="806" y="17" width="1" height="1" fill="#505050" />
<rect x="794" y="4" width="2" height="1" fill="#505050" />
</g>
<text x="797.3" y="16" font-size="11.2" fill="#505050" textLength="7.4" lengthAdjust="spacingAndGlyphs" stroke="#505050" stroke-width="0.45">T</text>
<path d="M822,8.5 L825.7,5 L829.4,8.5 L825.7,9.8 Z M828.5,15 L832.2,13.6 L835.9,15 L832.2,18.5 Z" fill="#505050"/><path d="M824.5,12.6 L826.3,14.3 L831,9" fill="none" stroke="#505050" stroke-width="1.2"/>
<text x="869.7" y="15" font-size="10" fill="#3c3c3c" textLength="12.3" lengthAdjust="spacingAndGlyphs" >M1</text>
<text x="897.8" y="15" font-size="10" fill="#3c3c3c" textLength="12.3" lengthAdjust="spacingAndGlyphs" >M5</text>
<text x="924" y="15" font-size="10" fill="#3c3c3c" textLength="17.4" lengthAdjust="spacingAndGlyphs" >M15</text>
<text x="951.6" y="15" font-size="10" fill="#3c3c3c" textLength="17.4" lengthAdjust="spacingAndGlyphs" >M30</text>
<text x="983" y="15" font-size="10" fill="#3c3c3c" textLength="11.3" lengthAdjust="spacingAndGlyphs" >H1</text>
<text x="1009.7" y="15" font-size="10" fill="#3c3c3c" textLength="12.3" lengthAdjust="spacingAndGlyphs" >H4</text>
<text x="1038.8" y="15" font-size="10" fill="#3c3c3c" textLength="11.4" lengthAdjust="spacingAndGlyphs" >D1</text>
<text x="1066" y="15" font-size="10" fill="#3c3c3c" textLength="14" lengthAdjust="spacingAndGlyphs" >W1</text>
<text x="1092.5" y="15" font-size="10" fill="#3c3c3c" textLength="15" lengthAdjust="spacingAndGlyphs" >MN</text>
<path d="M1582.6,11.4 L1578.6,15.4" stroke="#1c52c8" stroke-width="2.6" stroke-linecap="round"/><circle cx="1585.6" cy="8.4" r="3.9" fill="#fff" stroke="#2a62d8" stroke-width="1.3"/>
<defs><linearGradient id="bub" x1="0" y1="0" x2="0" y2="1"><stop offset="0.35" stop-color="#ffffff"/><stop offset="1" stop-color="#cfcfdc"/></linearGradient></defs>
<path d="M1612,8 A7.5,4.7 0 1 1 1622,12.5 L1622.6,14.8 L1619.4,12.7 A7.5,4.7 0 0 1 1612,8 Z" fill="url(#bub)" stroke="#9a9a9a" stroke-width="1"/>
<path d="M1604.3,12 A5,3.8 0 1 1 1608.6,15.7 L1606.2,17.8 L1606.6,15.3 A5,3.8 0 0 1 1604.3,12 Z" fill="url(#bub)" stroke="#8c8c8c" stroke-width="1"/>
</svg>
</body></html>
